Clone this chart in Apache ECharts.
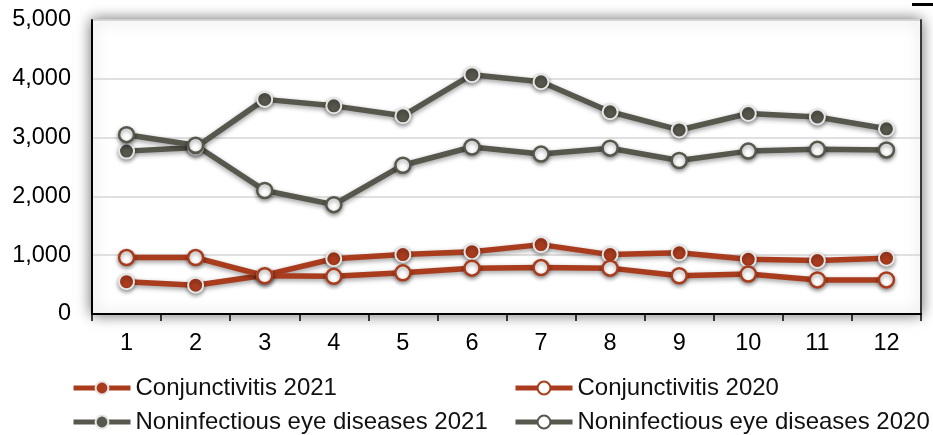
<!DOCTYPE html>
<html>
<head>
<meta charset="utf-8">
<script src="https://cdn.jsdelivr.net/npm/echarts@6/dist/echarts.min.js"></script>
<style>html,body{margin:0;padding:0;background:#fff;}#c{width:933px;height:435px;}</style>
</head>
<body>
<div id="c"></div>
<script>
const categories = ['1','2','3','4','5','6','7','8','9','10','11','12'];
const conj2021 = [550, 490, 660, 940, 1010, 1060, 1180, 1010, 1040, 930, 910, 950];
const conj2020 = [960, 960, 650, 640, 700, 780, 790, 780, 650, 680, 580, 580];
const nonin2021 = [2770, 2830, 3650, 3540, 3370, 4070, 3950, 3440, 3130, 3410, 3350, 3150];
const nonin2020 = [3050, 2870, 2100, 1860, 2530, 2840, 2720, 2820, 2610, 2770, 2800, 2790];
const yTicks = [0, 1000, 2000, 3000, 4000, 5000];
const seriesNames = ['Conjunctivitis 2021', 'Conjunctivitis 2020', 'Noninfectious eye diseases 2021', 'Noninfectious eye diseases 2020'];

const RED = '#aa3c1e';
const GRAY = '#58574d';
const FONT = '"Liberation Sans", Arial, sans-serif';

function mk(name, data, color, filled) {
  return {
    name: name, type: 'line', data: data,
    symbol: 'circle', symbolSize: 15,
    lineStyle: { color: color, width: 5.5, shadowBlur: 5, shadowOffsetY: 2, shadowColor: 'rgba(0,0,0,0.4)' },
    itemStyle: filled
      ? { color: color, borderColor: '#e6e6e6', borderWidth: 2, shadowBlur: 4, shadowOffsetY: 2, shadowColor: 'rgba(0,0,0,0.4)' }
      : { color: '#ffffff', borderColor: color, borderWidth: 2.5, shadowBlur: 4, shadowOffsetY: 2, shadowColor: 'rgba(0,0,0,0.4)' },
    emphasis: { disabled: true },
    animation: false
  };
}

function lg(name, left, top) {
  return {
    data: [name], left: left, top: top, itemWidth: 57, itemHeight: 16,
    lineStyle: { width: 5, shadowBlur: 0, shadowColor: 'transparent' },
    itemStyle: { shadowBlur: 0, shadowColor: 'transparent' },
    textStyle: { fontFamily: FONT, fontSize: 24, color: '#111' },
    selectedMode: false, padding: 0
  };
}

const chart = echarts.init(document.getElementById('c'));
chart.setOption({
  animation: false,
  grid: {
    left: 92, right: 12, top: 20, bottom: 121,
    show: true, backgroundColor: '#ffffff', borderColor: '#c4c4c4', borderWidth: 1,
    shadowBlur: 14, shadowColor: 'rgba(0,0,0,0.6)'
  },
  legend: [
    lg(seriesNames[0], 71, 376),
    lg(seriesNames[1], 513, 376),
    lg(seriesNames[2], 71, 410),
    lg(seriesNames[3], 513, 410)
  ],
  xAxis: {
    type: 'category', data: categories, boundaryGap: true,
    axisLine: { lineStyle: { color: '#000', width: 2 } },
    axisTick: { show: true, interval: 0, length: 7, lineStyle: { color: '#000', width: 1.5 } },
    axisLabel: { fontFamily: FONT, fontSize: 23.5, color: '#000', margin: 18, interval: 0 },
    splitLine: { show: false }
  },
  yAxis: [
    {
      type: 'value', min: yTicks[0], max: yTicks[yTicks.length - 1], interval: 1000,
      axisLine: { show: true, lineStyle: { color: '#000', width: 2 } },
      axisTick: { show: false },
      axisLabel: { fontFamily: FONT, fontSize: 23.5, color: '#000', margin: 21 },
      splitLine: { show: true, lineStyle: { color: '#d6d6d6', width: 1.5 } }
    },
    {
      type: 'value', min: yTicks[0], max: yTicks[yTicks.length - 1], interval: 1000, position: 'right',
      axisLine: { show: true, lineStyle: { color: '#3a3a3a', width: 2 } },
      axisTick: { show: false }, axisLabel: { show: false }, splitLine: { show: false }
    }
  ],
  series: [
    mk(seriesNames[0], conj2021, RED, true),
    mk(seriesNames[1], conj2020, RED, false),
    mk(seriesNames[2], nonin2021, GRAY, true),
    mk(seriesNames[3], nonin2020, GRAY, false)
  ],
  graphic: [
    { type: 'rect', left: 912, top: 3, shape: { width: 21, height: 3 }, style: { fill: '#000' } }
  ]
});
</script>
</body>
</html>
